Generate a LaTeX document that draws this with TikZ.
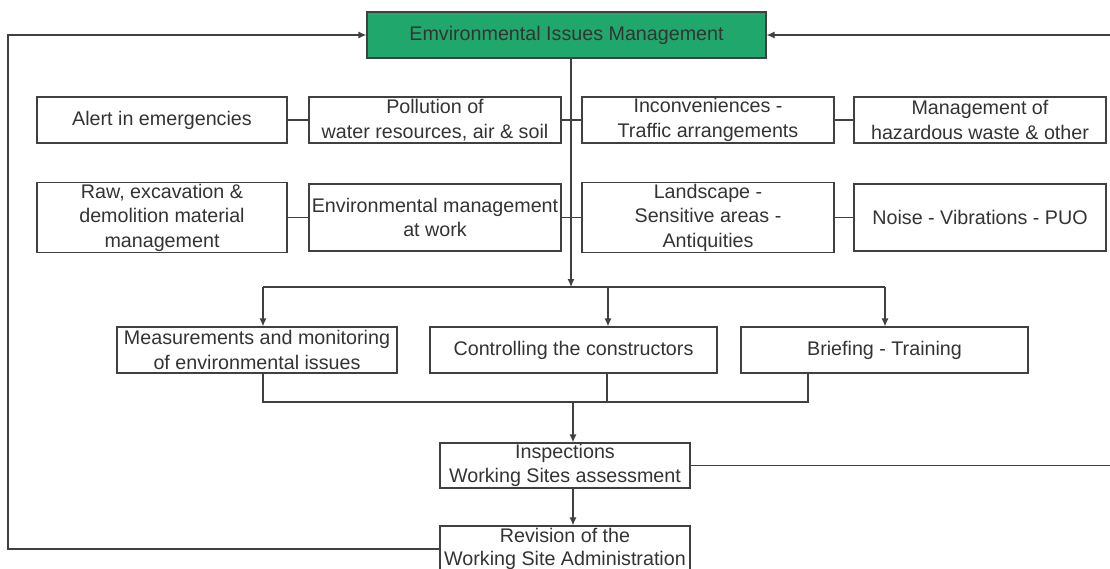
\documentclass[tikz,border=0pt]{standalone}
\usepackage{fontspec}
\setmainfont{Liberation Sans}
\usepackage{tikz}
\usetikzlibrary{arrows.meta}
\definecolor{envgreen}{RGB}{32,168,108}
\definecolor{linegray}{RGB}{64,64,64}
\tikzset{
    box/.style = {draw=linegray, line width=1.2pt, minimum width=250pt, minimum height=46pt,
                  inner sep=1pt, align=center, text=black!80, font=\fontsize{19.7}{24.5}\selectfont},
    link/.style = {linegray, line width=1.2pt},
    >={Latex[length=8pt,width=7pt]}
}

\begin{document}
\begin{tikzpicture}[x=1pt, y=-1pt]
        \useasboundingbox (0, 0) rectangle (1110, 569);
        \node[box, fill=envgreen, minimum width=399pt] (top) at (566.5, 35) {Emvironmental Issues Management};
        \node[box] (alert) at (162, 120) {Alert in emergencies};
        \node[box, minimum width=252pt] (pollution) at (435, 120) {Pollution of\\water resources, air \& soil};
        \node[box, minimum width=252pt] (traffic) at (708, 120) {Inconveniences -\\Traffic arrangements};
        \node[box, minimum width=252pt] (waste) at (980, 120) {Management of\\hazardous waste \& other};
        \node[box, minimum height=67pt] (raw) at (162, 217.5) {Raw, excavation \&\\demolition material\\management};
        \node[box, minimum width=252pt, minimum height=67pt] (work) at (435, 217.5) {Environmental management\\at work};
        \node[box, minimum width=252pt, minimum height=67pt] (landscape) at (708, 217.5) {Landscape -\\Sensitive areas -\\Antiquities};
        \node[box, minimum width=252pt, minimum height=67pt] (noise) at (980, 217.5) {Noise - Vibrations - PUO};
        \node[box, minimum width=280pt] (meas) at (257, 350) {Measurements and monitoring\\of environmental issues};
        \node[box, minimum width=287pt] (ctrl) at (573.5, 350) {Controlling the constructors};
        \node[box, minimum width=287pt] (brief) at (884.5, 350) {Briefing - Training};
        \node[box, minimum height=45pt] (insp) at (565, 465.5) {Inspections\\Working Sites assessment};
        \node[box, font=\fontsize{19.7}{22.5}\selectfont] (rev) at (565, 549) {Revision of the\\Working Site Administration};

        \coordinate (split) at (571, 287);
        \coordinate (hl) at (263, 287);
        \coordinate (hc) at (608, 287);
        \coordinate (hr) at (885, 287);
        \coordinate (lm) at (263, 402);
        \coordinate (cm) at (607, 402);
        \coordinate (jm) at (573, 402);
        \coordinate (rm) at (808, 402);
        \coordinate (edge) at (1110, 35);
        \coordinate (lc) at (8, 35);

        \draw[link] (alert) -- (pollution);
        \draw[link] (pollution) -- (traffic);
        \draw[link] (traffic) -- (waste);
        \draw[link] (raw) -- (work);
        \draw[link] (work) -- (landscape);
        \draw[link] (landscape) -- (noise);
        \draw[link, ->] (top.south -| split) -- (split);
        \draw[link] (hl) -- (hr);
        \draw[link, ->] (hl) -- (hl |- meas.north);
        \draw[link, ->] (hc) -- (hc |- ctrl.north);
        \draw[link, ->] (hr) -- (hr |- brief.north);
        \draw[link] (meas.south -| lm) -- (lm) -- (rm) -- (brief.south -| rm);
        \draw[link] (ctrl.south -| cm) -- (cm);
        \draw[link, ->] (jm) -- (insp.north -| jm);
        \draw[link, ->] (insp.south -| jm) -- (rev.north -| jm);
        \draw[link] (insp.east) -- (insp.east -| edge);
        \draw[link, ->] (edge) -- (top.east);
        \draw[link, ->] (rev.west) -- (rev.west -| lc) -- (lc) -- (top.west);
\end{tikzpicture}
\end{document}
